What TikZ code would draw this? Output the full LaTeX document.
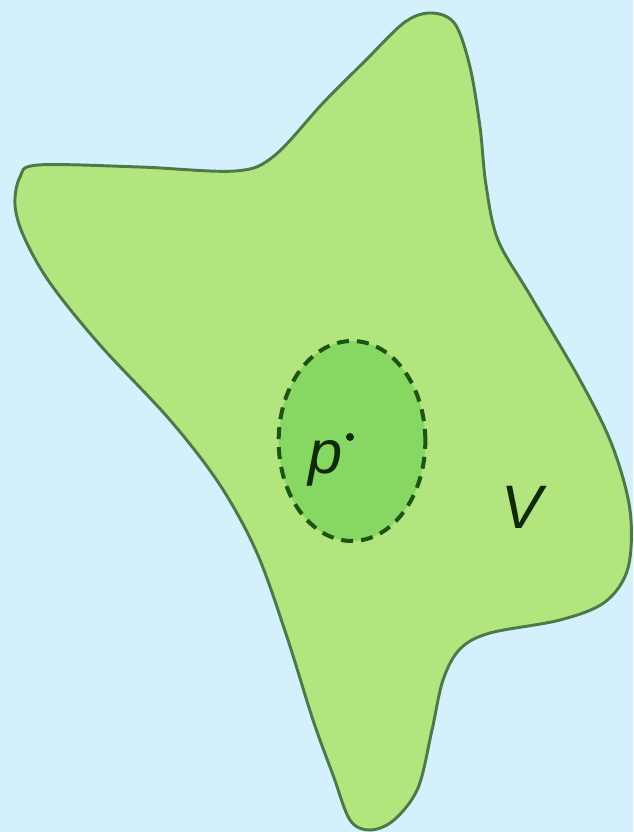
\documentclass[tikz,border=0pt]{standalone}
\usepackage{fontspec}
\setmainfont{Liberation Sans}
\definecolor{bgblue}{HTML}{D4F0FC}
\definecolor{blobfill}{HTML}{B2E57E}
\definecolor{blobline}{HTML}{4A7A48}
\definecolor{innerfill}{HTML}{86D862}
\definecolor{innerline}{HTML}{1C5412}
\definecolor{labelcol}{HTML}{0E2A0A}
\tikzset{
  blob/.style={fill=blobfill, draw=blobline, line width=2.2pt, line join=round},
  innerdisk/.style={ellipse, fill=innerfill, draw=innerline, line width=3pt, dash pattern=on 9pt off 6pt, minimum width=110pt, minimum height=150pt, inner sep=0pt},
  lbl/.style={text=labelcol, font=\fontsize{46}{50}\selectfont\itshape, inner sep=0pt},
  pdot/.style={circle, fill=labelcol, minimum size=6pt, inner sep=0pt}
}
\usetikzlibrary{shapes.geometric}
\begin{document}
\begin{tikzpicture}[x=0.75pt, y=-0.75pt]
\fill[bgblue] (0,0) rectangle (633,832);
\useasboundingbox (0,0) rectangle (633,832);
\draw[blob] plot[smooth cycle, tension=0.55] coordinates {
 (38,165) (140,167) (235,171) (274,156) (323,103) (365,61) (405,22) (432,13)
 (455,24) (470,67) (480,127) (486,185) (498,240) (530,295) (580,380)
 (612,445) (630,510) (628,568) (605,602) (560,620) (490,633)
 (460,649) (443,680) (432,730) (418,788) (394,820) (370,830) (350,820) (333,775)
 (313,720) (287,637) (257,553) (220,485) (170,420) (100,345)
 (50,283) (24,237) (15,205) (20,177)};
\node[innerdisk] (disk) at (352,441) {};
\node[lbl] (p) at (326,463) {p};
\node[pdot] (pd) at (350,437) {};
\node[lbl] (v) at (522,507) {V};
\end{tikzpicture}
\end{document}
